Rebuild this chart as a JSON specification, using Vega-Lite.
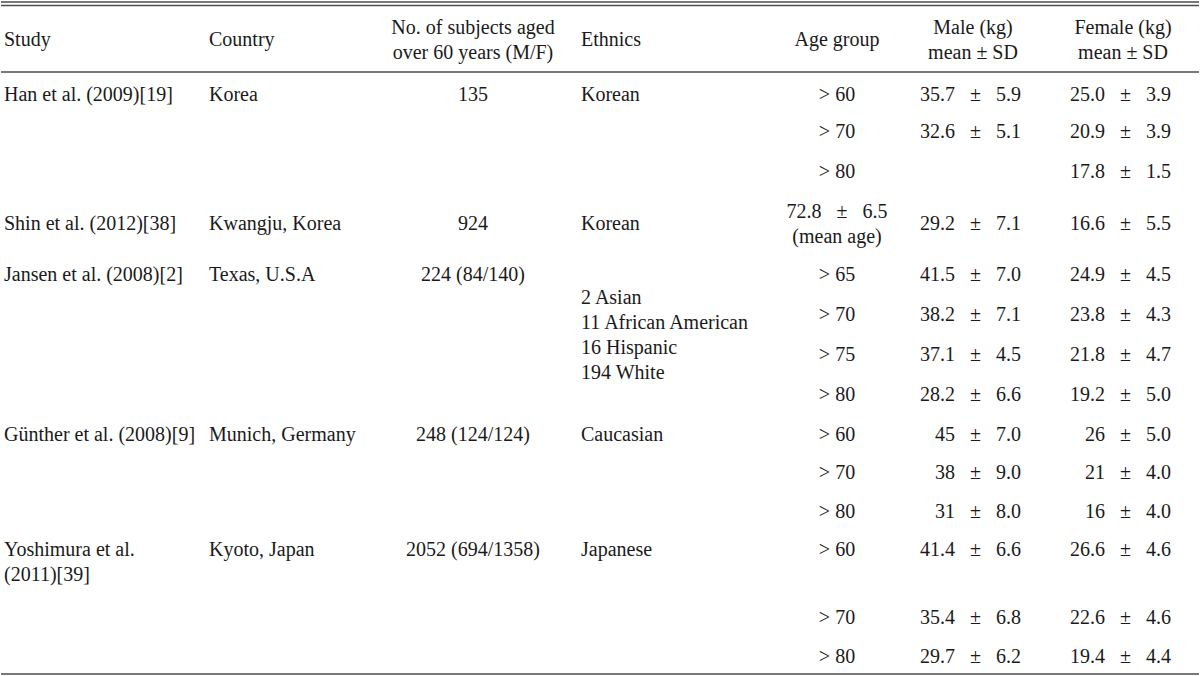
{
  "$schema": "https://vega.github.io/schema/vega-lite/v6.json",
  "width": 1200,
  "height": 676,
  "autosize": {"type": "fit", "contains": "padding"},
  "padding": 0,
  "background": "white",
  "config": {"view": {"stroke": null}},
  "data": {"values": [
    {"row": 0, "col": 0, "text": "Study"},
    {"row": 0, "col": 1, "text": "Country"},
    {"row": 0, "col": 2, "text": "No. of subjects aged\nover 60 years (M/F)"},
    {"row": 0, "col": 3, "text": "Ethnics"},
    {"row": 0, "col": 4, "text": "Age group"},
    {"row": 0, "col": 5, "text": "Male (kg)\nmean ± SD"},
    {"row": 0, "col": 6, "text": "Female (kg)\nmean ± SD"},
    {"row": 1, "col": 0, "text": "Han et al. (2009)[19]"},
    {"row": 1, "col": 1, "text": "Korea"},
    {"row": 1, "col": 2, "text": "135"},
    {"row": 1, "col": 3, "text": "Korean"},
    {"row": 1, "col": 4, "text": "> 60"},
    {"row": 1, "col": 5, "text": "35.7\u2002 ±\u2002 5.9"},
    {"row": 1, "col": 6, "text": "25.0\u2002 ±\u2002 3.9"},
    {"row": 2, "col": 4, "text": "> 70"},
    {"row": 2, "col": 5, "text": "32.6\u2002 ±\u2002 5.1"},
    {"row": 2, "col": 6, "text": "20.9\u2002 ±\u2002 3.9"},
    {"row": 3, "col": 4, "text": "> 80"},
    {"row": 3, "col": 6, "text": "17.8\u2002 ±\u2002 1.5"},
    {"row": 4, "col": 0, "text": "Shin et al. (2012)[38]"},
    {"row": 4, "col": 1, "text": "Kwangju, Korea"},
    {"row": 4, "col": 2, "text": "924"},
    {"row": 4, "col": 3, "text": "Korean"},
    {"row": 4, "col": 4, "text": "72.8\u2002 ±\u2002 6.5\n(mean age)"},
    {"row": 4, "col": 5, "text": "29.2\u2002 ±\u2002 7.1"},
    {"row": 4, "col": 6, "text": "16.6\u2002 ±\u2002 5.5"},
    {"row": 5, "col": 0, "text": "Jansen et al. (2008)[2]"},
    {"row": 5, "col": 1, "text": "Texas, U.S.A"},
    {"row": 5, "col": 2, "text": "224 (84/140)"},
    {"row": 6.5, "col": 3, "text": "2 Asian\n11 African American\n16 Hispanic\n194 White"},
    {"row": 5, "col": 4, "text": "> 65"},
    {"row": 5, "col": 5, "text": "41.5\u2002 ±\u2002 7.0"},
    {"row": 5, "col": 6, "text": "24.9\u2002 ±\u2002 4.5"},
    {"row": 6, "col": 4, "text": "> 70"},
    {"row": 6, "col": 5, "text": "38.2\u2002 ±\u2002 7.1"},
    {"row": 6, "col": 6, "text": "23.8\u2002 ±\u2002 4.3"},
    {"row": 7, "col": 4, "text": "> 75"},
    {"row": 7, "col": 5, "text": "37.1\u2002 ±\u2002 4.5"},
    {"row": 7, "col": 6, "text": "21.8\u2002 ±\u2002 4.7"},
    {"row": 8, "col": 4, "text": "> 80"},
    {"row": 8, "col": 5, "text": "28.2\u2002 ±\u2002 6.6"},
    {"row": 8, "col": 6, "text": "19.2\u2002 ±\u2002 5.0"},
    {"row": 9, "col": 0, "text": "Günther et al. (2008)[9]"},
    {"row": 9, "col": 1, "text": "Munich, Germany"},
    {"row": 9, "col": 2, "text": "248 (124/124)"},
    {"row": 9, "col": 3, "text": "Caucasian"},
    {"row": 9, "col": 4, "text": "> 60"},
    {"row": 9, "col": 5, "text": "45\u2002 ±\u2002 7.0"},
    {"row": 9, "col": 6, "text": "26\u2002 ±\u2002 5.0"},
    {"row": 10, "col": 4, "text": "> 70"},
    {"row": 10, "col": 5, "text": "38\u2002 ±\u2002 9.0"},
    {"row": 10, "col": 6, "text": "21\u2002 ±\u2002 4.0"},
    {"row": 11, "col": 4, "text": "> 80"},
    {"row": 11, "col": 5, "text": "31\u2002 ±\u2002 8.0"},
    {"row": 11, "col": 6, "text": "16\u2002 ±\u2002 4.0"},
    {"row": 12, "col": 0, "text": "Yoshimura et al.\n(2011)[39]"},
    {"row": 12, "col": 1, "text": "Kyoto, Japan"},
    {"row": 12, "col": 2, "text": "2052 (694/1358)"},
    {"row": 12, "col": 3, "text": "Japanese"},
    {"row": 12, "col": 4, "text": "> 60"},
    {"row": 12, "col": 5, "text": "41.4\u2002 ±\u2002 6.6"},
    {"row": 12, "col": 6, "text": "26.6\u2002 ±\u2002 4.6"},
    {"row": 13, "col": 4, "text": "> 70"},
    {"row": 13, "col": 5, "text": "35.4\u2002 ±\u2002 6.8"},
    {"row": 13, "col": 6, "text": "22.6\u2002 ±\u2002 4.6"},
    {"row": 14, "col": 4, "text": "> 80"},
    {"row": 14, "col": 5, "text": "29.7\u2002 ±\u2002 6.2"},
    {"row": 14, "col": 6, "text": "19.4\u2002 ±\u2002 4.4"}
  ]},
  "encoding": {
    "x": {"field": "col", "type": "quantitative", "axis": null,
          "scale": {"domain": [0, 1, 2, 3, 4, 5, 6], "range": [3, 208, 472, 580, 836, 1020, 1170], "nice": false, "zero": false}},
    "y": {"field": "row", "type": "quantitative", "axis": null,
          "scale": {"domain": [0, 1, 2, 3, 4, 5, 6, 7, 8, 9, 10, 11, 12, 13, 14], "range": [40, 95, 132, 172, 224, 275, 315, 355, 395, 435, 473, 512, 550, 618, 657], "nice": false, "zero": false}},
    "text": {"field": "text", "type": "nominal"}
  },
  "layer": [
    {
      "data": {"values": [
        {"rule": 0, "name": "top outer"},
        {"rule": 1, "name": "top inner"},
        {"rule": 2, "name": "header"},
        {"rule": 3, "name": "bottom"}
      ]},
      "mark": {"type": "rule", "color": "#4d4d4d", "strokeWidth": 1.5},
      "encoding": {
        "x": null,
        "text": null,
        "y": {"field": "rule", "type": "quantitative", "axis": null,
              "scale": {"domain": [0, 1, 2, 3], "range": [2, 5.5, 72, 674], "nice": false, "zero": false}}
      }
    },
    {
      "transform": [{"filter": "(datum.col == 0 || datum.col == 1 || datum.col == 3) && !(datum.col == 3 && indexof(datum.text, '\\n') >= 0)"}],
      "mark": {"type": "text", "align": "left", "baseline": "middle", "font": "Liberation Serif", "fontSize": 20, "lineHeight": 25, "lineBreak": "\n", "color": "#1a1a1a"}
    },
    {
      "transform": [{"filter": "datum.col == 3 && indexof(datum.text, '\\n') >= 0"}],
      "mark": {"type": "text", "align": "left", "baseline": "middle", "dy": -37.5, "font": "Liberation Serif", "fontSize": 20, "lineHeight": 25, "lineBreak": "\n", "color": "#1a1a1a"}
    },
    {
      "transform": [{"filter": "(datum.col == 2 || datum.col == 4) && indexof(datum.text, '\\n') < 0"}],
      "mark": {"type": "text", "align": "center", "baseline": "middle", "font": "Liberation Serif", "fontSize": 20, "lineHeight": 25, "lineBreak": "\n", "color": "#1a1a1a"}
    },
    {
      "transform": [{"filter": "(datum.col == 2 || datum.col == 4) && indexof(datum.text, '\\n') >= 0"}],
      "mark": {"type": "text", "align": "center", "baseline": "middle", "dy": -12.5, "font": "Liberation Serif", "fontSize": 20, "lineHeight": 25, "lineBreak": "\n", "color": "#1a1a1a"}
    },
    {
      "transform": [{"filter": "datum.col >= 5 && datum.row > 0"}],
      "mark": {"type": "text", "align": "right", "baseline": "middle", "font": "Liberation Serif", "fontSize": 20, "lineHeight": 25, "lineBreak": "\n", "color": "#1a1a1a"}
    },
    {
      "transform": [{"filter": "datum.col >= 5 && datum.row == 0"}],
      "mark": {"type": "text", "align": "center", "baseline": "middle", "dx": -48, "dy": -12.5, "font": "Liberation Serif", "fontSize": 20, "lineHeight": 25, "lineBreak": "\n", "color": "#1a1a1a"}
    }
  ],
  "resolve": {"scale": {"y": "independent"}}
}
